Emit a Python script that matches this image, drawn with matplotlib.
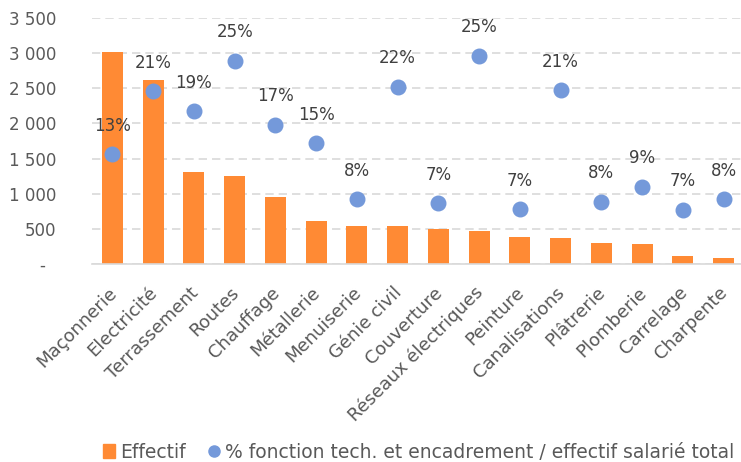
import matplotlib.pyplot as plt
import matplotlib.ticker as mticker
import matplotlib.transforms as mtransforms
from matplotlib.lines import Line2D
from matplotlib.patches import Patch

metiers = ["Maçonnerie", "Electricité", "Terrassement", "Routes", "Chauffage",
           "Métallerie", "Menuiserie", "Génie civil", "Couverture",
           "Réseaux électriques", "Peinture", "Canalisations", "Plâtrerie",
           "Plomberie", "Carrelage", "Charpente"]
effectif = [3015, 2615, 1305, 1257, 958, 612, 545, 536, 493, 474, 384, 365,
            294, 285, 114, 81]
part_tech = [0.134, 0.211, 0.186, 0.248, 0.170, 0.147, 0.079, 0.216, 0.074,
             0.254, 0.067, 0.212, 0.076, 0.094, 0.066, 0.079]
y_ticks = [0, 500, 1000, 1500, 2000, 2500, 3000, 3500]

orange = "#FF8A34"
blue = "#7499DA"
grey = "#595959"

plt.rcParams['font.family'] = ['DejaVu Sans']
fig = plt.figure(figsize=(7.41, 4.62), dpi=100)
ax = fig.add_axes([92 / 741, 198 / 462, 652 / 741, 246 / 462])
x = list(range(len(metiers)))
ax.bar(x, effectif, width=0.51, color=orange, zorder=2)
ax.set_xlim(-0.5, len(metiers) - 0.5)
ax.set_ylim(0, 3500)
ax.set_yticks(y_ticks)
ax.yaxis.set_major_formatter(mticker.FuncFormatter(
    lambda v, p: "-  " if v == 0 else f"{int(v):,}".replace(",", " ")))
ax.grid(axis="y", color="#D9D9D9", linestyle=(0, (5, 3)), linewidth=1.2, zorder=0)
for s in ["top", "right", "left"]:
    ax.spines[s].set_visible(False)
ax.spines["bottom"].set_color("#D9D9D9")
ax.spines["bottom"].set_linewidth(1.2)
ax.tick_params(axis="y", length=0, pad=26, labelsize=12, labelcolor=grey)
ax.tick_params(axis="x", length=0, pad=14, labelsize=13, labelcolor=grey)
ax.set_xticks(x)
ax.set_xticklabels(metiers, rotation=45, ha="right", rotation_mode="anchor")
shift = mtransforms.ScaledTranslation(-5 / 100, 0, fig.dpi_scale_trans)
for lab in ax.get_xticklabels():
    lab.set_transform(lab.get_transform() + shift)

ax2 = ax.twinx()
ax2.set_ylim(0, 0.30)
ax2.axis("off")
ax2.scatter(x, part_tech, s=110, color=blue, zorder=3)
for xi, p in zip(x, part_tech):
    ax2.annotate(f"{p:.0%}", (xi, p), xytext=(0, 14), textcoords="offset points",
                 ha="center", va="bottom", fontsize=12, color="#404040")

handles = [Patch(color=orange, label="Effectif"),
           Line2D([], [], marker="o", linestyle="", color=blue, markersize=8,
                  label="% fonction tech. et encadrement / effectif salarié total")]
leg = fig.legend(handles=handles, loc="center", bbox_to_anchor=(419 / 741, 1 - 452 / 462),
                 ncol=2, frameon=False, fontsize=13.5, handlelength=0.6,
                 handletextpad=0.3, columnspacing=1.2, borderaxespad=0)
for t in leg.get_texts():
    t.set_color(grey)

fig.savefig("out.png", dpi=100)
